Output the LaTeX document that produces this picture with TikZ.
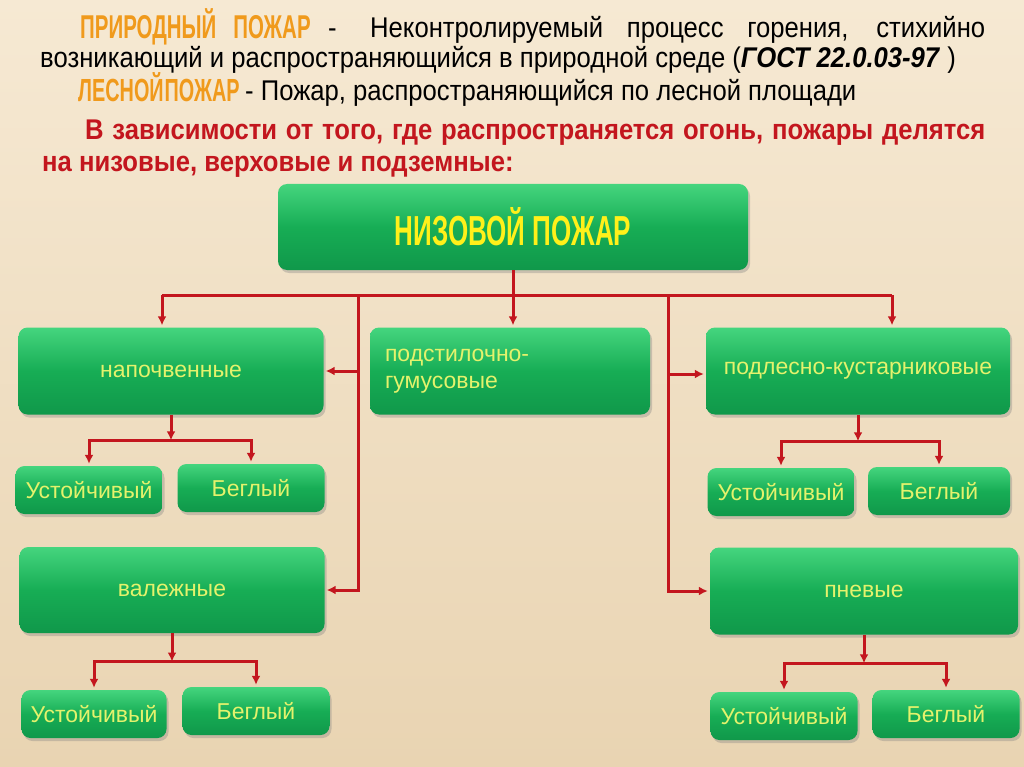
\documentclass[tikz,border=0pt]{standalone}
\usepackage{fontspec}
\setmainfont{Liberation Sans}
\newfontfamily\narrowfont[FakeStretch=0.9]{Liberation Sans}
\newfontfamily\headfont[FakeStretch=0.62]{Liberation Sans}
\usepackage{tikz}
\usetikzlibrary{arrows.meta, shadows, positioning, calc}
\definecolor{bgtop}{HTML}{F6E9D3}
\definecolor{bgbot}{HTML}{E9D4B2}
\definecolor{gtop}{HTML}{45D57E}
\definecolor{gmid}{HTML}{17AD55}
\definecolor{gbot}{HTML}{10984A}
\definecolor{boxtxt}{HTML}{E4F26C}
\definecolor{headtxt}{HTML}{FFF01A}
\definecolor{linered}{HTML}{C3161E}
\definecolor{orangetxt}{HTML}{F09A1C}

\begin{document}
\begin{tikzpicture}[x=1pt, y=-1pt,
    box/.style = {rounded corners=9pt, inner sep=0pt, top color=gtop, bottom color=gbot, middle color=gmid,
                  drop shadow={opacity=0.35, shadow xshift=2pt, shadow yshift=-3pt},
                  text=boxtxt, font=\fontsize{23}{27}\selectfont, align=center},
    big/.style = {box, minimum width=305pt, minimum height=87pt},
    small/.style = {box, minimum width=147pt, minimum height=48pt},
    line/.style = {draw=linered, line width=3pt},
    arr/.style = {line, -{Latex[length=9pt, width=9pt]}, shorten >=2pt},
    head/.style = {text=orangetxt, font=\headfont\bfseries\fontsize{33}{35}\selectfont, inner sep=0pt, anchor=base west},
    plain/.style = {font=\narrowfont\fontsize{28.5}{32}\selectfont, inner sep=0pt, anchor=base west},
    redline/.style = {plain, text=linered, font=\narrowfont\bfseries\fontsize{28.5}{32}\selectfont}]

    \useasboundingbox (0,0) rectangle (1024,767);
    \shade[top color=bgtop, bottom color=bgbot] (0,0) rectangle (1024,767);

    \node[head] (prirod) at (80,39) {ПРИРОДНЫЙ\hspace{17pt}ПОЖАР};
    \node[plain] (dash1) at (328,38) {-};
    \node[plain] (def1) at (370,38) {\makebox[615pt][s]{Неконтролируемый процесс горения, стихийно}};
    \node[plain] (def2) at (40,68) {возникающий и распространяющийся в природной среде (\textbf{\textit{ГОСТ 22.0.03-97}} )};
    \node[head, font=\headfont\bfseries\fontsize{32}{34}\selectfont] (lesn) at (78,102) {ЛЕСНОЙ\hspace{1pt}ПОЖАР};
    \node[plain] (def3) at (245,101) {- Пожар, распространяющийся по лесной площади};
    \node[redline] (kind1) at (85,140) {\makebox[900pt][s]{В зависимости от того, где распространяется огонь, пожары делятся}};
    \node[redline] (kind2) at (42,172) {на низовые, верховые и подземные:};

    \node[box, minimum width=470pt, minimum height=86pt, text=headtxt,
          font=\headfont\bfseries\fontsize{42}{44}\selectfont] (nizov) at (513,227) {НИЗОВОЙ ПОЖАР};

    \node[big] (napoch) at (171,371) {напочвенные};
    \node[big, minimum width=280pt, align=left, text width=250pt] (podst) at (510,371) {подстилочно-\\гумусовые};
    \node[big, minimum width=304pt] (podles) at (858,371) {подлесно-кустарниковые};
    \node[big, minimum height=86pt] (valezh) at (172,590) {валежные};
    \node[big, minimum width=308pt] (pnev) at (864,591) {пневые};

    \node[small] (ust1) at (89,490) {Устойчивый};
    \node[small] (begl1) at (251,488) {Беглый};
    \node[small] (ust2) at (781,492) {Устойчивый};
    \node[small, minimum width=142pt] (begl2) at (939,491) {Беглый};
    \node[small, minimum width=145pt] (ust3) at (94,714) {Устойчивый};
    \node[small] (begl3) at (256,711) {Беглый};
    \node[small] (ust4) at (784,716) {Устойчивый};
    \node[small] (begl4) at (946,714) {Беглый};

    \coordinate (busL) at (162,295);
    \coordinate (busR) at (892,295);
    \coordinate (trunkL) at (358,295);
    \coordinate (trunkR) at (668,295);

    \draw[line] (busL) -- (busR);
    \draw[arr] (nizov.south) -- (nizov.south |- podst.north);
    \draw[arr] (busL) -- (busL |- napoch.north);
    \draw[arr] (busR) -- (busR |- podles.north);
    \draw[arr] (trunkL) |- (napoch.east);
    \draw[arr] (trunkL) |- (valezh.east);
    \draw[arr] (trunkR) |- ([yshift=-3pt]podles.west);
    \draw[arr] (trunkR) |- (pnev.west);

    \foreach \p/\a/\b in {napoch/ust1/begl1, podles/ust2/begl2, valezh/ust3/begl3, pnev/ust4/begl4}{
        \coordinate (\p-j) at ($(\p.south)!0.5!(\p.south |- \a.north)$);
        \draw[arr, shorten >=0pt] (\p.south) -- (\p-j);
        \draw[arr] (\p-j) -| (\a.north);
        \draw[arr] (\p-j) -| (\b.north);
    }
\end{tikzpicture}
\end{document}
